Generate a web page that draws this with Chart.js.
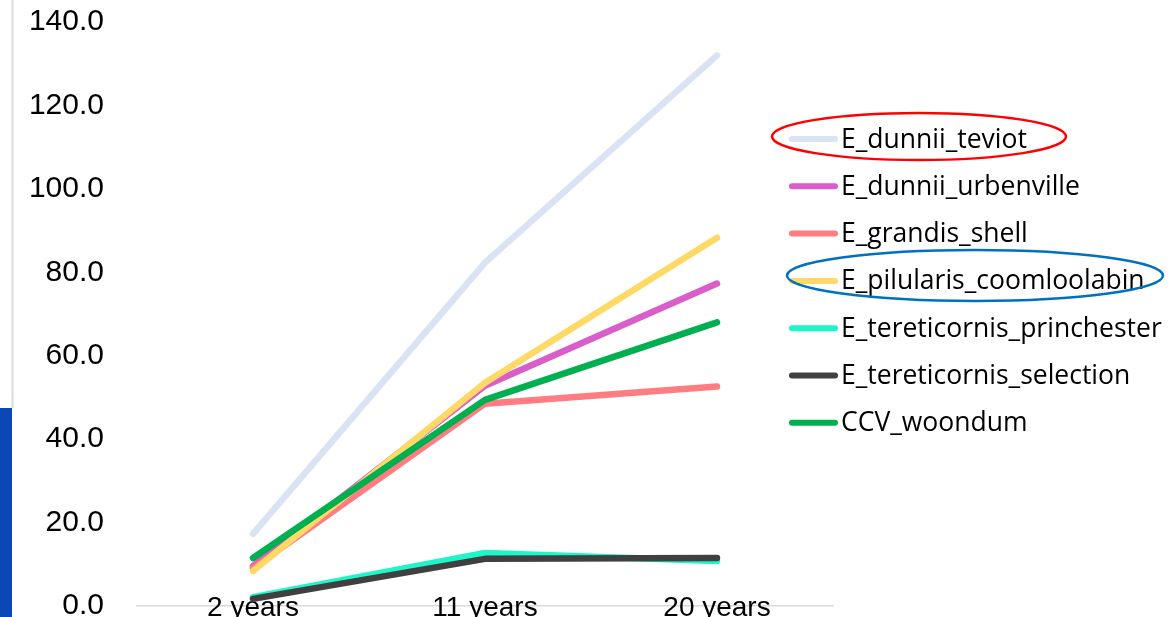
<!DOCTYPE html>
<html>
<head>
<meta charset="utf-8">
<script src="https://cdn.jsdelivr.net/npm/chart.js@4/dist/chart.umd.min.js"></script>
<style>
  html, body { margin: 0; padding: 0; background: #ffffff; overflow: hidden; }
  #wrap { position: relative; width: 1171px; height: 617px; }
  canvas { display: block; }
</style>
</head>
<body>
<div id="wrap"><canvas id="c" width="1171" height="617"></canvas></div>
<script>
const categories = ["2 years", "11 years", "20 years"];
const seriesNames = [
  "E_dunnii_teviot",
  "E_dunnii_urbenville",
  "E_grandis_shell",
  "E_pilularis_coomloolabin",
  "E_tereticornis_princhester",
  "E_tereticornis_selection",
  "CCV_woondum"
];
const E_dunnii_teviot = [17.3, 82.3, 132.0];
const E_dunnii_urbenville = [9.6, 52.8, 77.3];
const E_grandis_shell = [9.1, 48.5, 52.6];
const E_pilularis_coomloolabin = [8.4, 53.5, 88.3];
const E_tereticornis_princhester = [2.1, 12.7, 10.8];
const E_tereticornis_selection = [1.7, 11.3, 11.5];
const CCV_woondum = [11.5, 49.4, 68.0];
const yTicks = [0, 20, 40, 60, 80, 100, 120, 140];

const seriesValues = [E_dunnii_teviot, E_dunnii_urbenville, E_grandis_shell,
  E_pilularis_coomloolabin, E_tereticornis_princhester, E_tereticornis_selection, CCV_woondum];
const seriesColors = ["#dae3f3", "#d95ec9", "#ff7c80", "#ffd966", "#1ef5c8", "#404040", "#00b050"];

const datasets = seriesNames.map((n, i) => ({
  label: n,
  data: seriesValues[i],
  borderColor: seriesColors[i],
  backgroundColor: seriesColors[i],
  borderWidth: 6.5,
  borderCapStyle: "round",
  borderJoinStyle: "round",
  pointRadius: 0,
  pointHoverRadius: 0,
  tension: 0,
  fill: false,
  order: seriesNames.length - i
}));

const decorPlugin = {
  id: "decor",
  beforeDraw(chart) {
    const ctx = chart.ctx;
    ctx.save();
    ctx.fillStyle = "#ffffff";
    ctx.fillRect(0, 0, chart.width, chart.height);
    ctx.strokeStyle = "#d9d9d9";
    ctx.lineWidth = 2;
    ctx.beginPath();
    ctx.moveTo(12.5, 0);
    ctx.lineTo(12.5, 408);
    ctx.stroke();
    ctx.fillStyle = "#0b48b5";
    ctx.fillRect(0, 408, 12, chart.height - 408);
    ctx.restore();
  },
  beforeDatasetsDraw(chart) {
    // category labels sit on the axis line, under the series lines
    const ctx = chart.ctx;
    const xs = chart.scales.x;
    ctx.save();
    ctx.font = "28px 'Liberation Sans'";
    ctx.fillStyle = "#000000";
    ctx.textAlign = "center";
    ctx.textBaseline = "alphabetic";
    chart.data.labels.forEach((lab, i) => {
      ctx.fillText(lab, xs.getPixelForTick(i), xs.top + 10);
    });
    ctx.restore();
  },
  afterDraw(chart) {
    const ctx = chart.ctx;
    ctx.save();
    // legend
    const ds = chart.data.datasets;
    const x0 = 792, x1 = 835, tx = 841, y0 = 139, step = 47.3;
    ctx.font = "26.5px 'Open Sans'";
    ctx.textBaseline = "middle";
    ctx.textAlign = "left";
    ds.forEach((d, i) => {
      const y = y0 + i * step;
      ctx.strokeStyle = d.borderColor;
      ctx.lineWidth = 6;
      ctx.lineCap = "round";
      ctx.beginPath();
      ctx.moveTo(x0, y);
      ctx.lineTo(x1, y);
      ctx.stroke();
      ctx.fillStyle = "#000000";
      ctx.fillText(d.label, tx, y + 1);
    });
    // highlight ellipses
    ctx.lineWidth = 2.5;
    ctx.strokeStyle = "#ff0000";
    ctx.beginPath();
    ctx.ellipse(919, 136.5, 147, 23.5, 0, 0, Math.PI * 2);
    ctx.stroke();
    ctx.strokeStyle = "#0070c0";
    ctx.beginPath();
    ctx.ellipse(975, 275.5, 188, 25.5, 0, 0, Math.PI * 2);
    ctx.stroke();
    ctx.restore();
  }
};

new Chart(document.getElementById("c"), {
  type: "line",
  data: { labels: categories, datasets },
  options: {
    responsive: false,
    animation: false,
    events: [],
    layout: { padding: { left: 0, right: 338, top: 22, bottom: 0 } },
    plugins: { legend: { display: false }, tooltip: { enabled: false } },
    scales: {
      x: {
        offset: true,
        grid: { display: false, drawTicks: false },
        border: { display: true, color: "#d9d9d9", width: 1.5 },
        ticks: { display: false },
        afterFit(scale) {
          scale.height = 11;
          scale.paddingLeft = 0;
          scale.paddingRight = 0;
        }
      },
      y: {
        min: 0,
        max: 140,
        afterBuildTicks(scale) { scale.ticks = yTicks.map(v => ({ value: v })); },
        grid: { display: false, drawTicks: false },
        border: { display: false },
        ticks: {
          color: "#000000",
          font: { family: "'Liberation Sans'", size: 30 },
          padding: 33,
          callback: v => Number(v).toFixed(1)
        },
        afterFit(scale) {
          scale.width = 137;
          scale.paddingTop = 0;
          scale.paddingBottom = 0;
        }
      }
    }
  },
  plugins: [decorPlugin]
});
</script>
</body>
</html>
